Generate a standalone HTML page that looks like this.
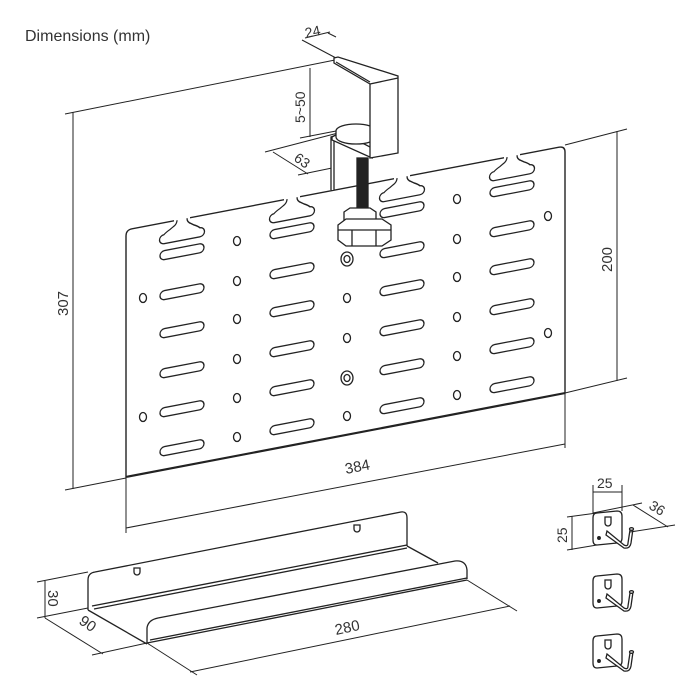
<!DOCTYPE html>
<html><head><meta charset="utf-8"><style>
html,body{margin:0;padding:0;background:#fff;}
svg{display:block;}
text{font-family:"Liberation Sans",sans-serif;fill:#333;}
</style></head><body>
<svg width="700" height="700" viewBox="0 0 700 700" xmlns="http://www.w3.org/2000/svg">
<text x="25" y="41" font-size="16">Dimensions (mm)</text>
<g stroke="#222" fill="none" stroke-width="1">
<line x1="65" y1="114" x2="335" y2="60"/>
<line x1="65" y1="490" x2="126" y2="478"/>
<line x1="73" y1="112" x2="73" y2="489"/>
<line x1="565" y1="145" x2="627" y2="129"/>
<line x1="565" y1="393" x2="627" y2="378"/>
<line x1="617" y1="131" x2="617" y2="381"/>
<line x1="126" y1="478" x2="126" y2="533"/>
<line x1="565" y1="393" x2="565" y2="448"/>
<line x1="126" y1="528" x2="565" y2="444"/>
<line x1="300" y1="138" x2="336" y2="131"/>
<line x1="310" y1="68" x2="310" y2="137"/>
<line x1="265" y1="152" x2="338" y2="133"/>
<line x1="273" y1="152" x2="308" y2="174"/>
<line x1="298" y1="175" x2="332" y2="168"/>
<line x1="302" y1="40" x2="336" y2="58"/>
<line x1="305" y1="38" x2="330" y2="32"/>
<line x1="328" y1="33" x2="336" y2="37"/>
</g>
<text font-size="15" transform="translate(68,316) rotate(-90)">307</text>
<text font-size="15" transform="translate(612,272) rotate(-90)">200</text>
<text font-size="15" transform="translate(346,474) rotate(-11)">384</text>
<text font-size="14" transform="translate(305,123) rotate(-90)">5~50</text>
<text font-size="14" transform="translate(293,160) rotate(35)">63</text>
<text font-size="14" transform="translate(306,38) rotate(-12)">24</text>

<g transform="matrix(1,-0.191,0,1,0,0)" stroke="#222" stroke-width="1.3" fill="#fff">
<path d="M126,501 V260 Q126,254 132,254 H559 Q565,254 565,260 V501 Z" stroke-width="1.4"/>
<line x1="126" y1="501" x2="565" y2="501" stroke-width="2.2"/>
<g fill="#fff">
<rect x="174" y="251" width="16" height="5" stroke="none"/>
<path d="M177,254 Q177,258 173,260 L170,262 Q166,264 164,266 a4.5,4.5 0 0 0 0,9 H200 a4.5,4.5 0 0 0 0,-9 Q198,264 194,262 L191,260 Q187,258 187,254"/>
<rect x="284" y="251" width="16" height="5" stroke="none"/>
<path d="M287,254 Q287,258 283,260 L280,262 Q276,264 274,266 a4.5,4.5 0 0 0 0,9 H310 a4.5,4.5 0 0 0 0,-9 Q308,264 304,262 L301,260 Q297,258 297,254"/>
<rect x="394" y="251" width="16" height="5" stroke="none"/>
<path d="M397,254 Q397,258 393,260 L390,262 Q386,264 384,266 a4.5,4.5 0 0 0 0,9 H420 a4.5,4.5 0 0 0 0,-9 Q418,264 414,262 L411,260 Q407,258 407,254"/>
<rect x="504" y="251" width="16" height="5" stroke="none"/>
<path d="M507,254 Q507,258 503,260 L500,262 Q496,264 494,266 a4.5,4.5 0 0 0 0,9 H530 a4.5,4.5 0 0 0 0,-9 Q528,264 524,262 L521,260 Q517,258 517,254"/>
</g>
<g>
<rect x="160" y="282" width="44" height="9" rx="4.5"/><rect x="160" y="322" width="44" height="9" rx="4.5"/><rect x="160" y="360" width="44" height="9" rx="4.5"/><rect x="160" y="400" width="44" height="9" rx="4.5"/><rect x="160" y="439" width="44" height="9" rx="4.5"/><rect x="160" y="478" width="44" height="9" rx="4.5"/>
<rect x="270" y="282" width="44" height="9" rx="4.5"/><rect x="270" y="322" width="44" height="9" rx="4.5"/><rect x="270" y="360" width="44" height="9" rx="4.5"/><rect x="270" y="400" width="44" height="9" rx="4.5"/><rect x="270" y="439" width="44" height="9" rx="4.5"/><rect x="270" y="478" width="44" height="9" rx="4.5"/>
<rect x="380" y="282" width="44" height="9" rx="4.5"/><rect x="380" y="322" width="44" height="9" rx="4.5"/><rect x="380" y="360" width="44" height="9" rx="4.5"/><rect x="380" y="400" width="44" height="9" rx="4.5"/><rect x="380" y="439" width="44" height="9" rx="4.5"/><rect x="380" y="478" width="44" height="9" rx="4.5"/>
<rect x="490" y="282" width="44" height="9" rx="4.5"/><rect x="490" y="322" width="44" height="9" rx="4.5"/><rect x="490" y="360" width="44" height="9" rx="4.5"/><rect x="490" y="400" width="44" height="9" rx="4.5"/><rect x="490" y="439" width="44" height="9" rx="4.5"/><rect x="490" y="478" width="44" height="9" rx="4.5"/>
</g>
</g>
<g stroke="#222" fill="#fff" stroke-width="1.3">
<ellipse cx="237" cy="241" rx="3.5" ry="4.5"/><ellipse cx="237" cy="281" rx="3.5" ry="4.5"/><ellipse cx="237" cy="319" rx="3.5" ry="4.5"/><ellipse cx="237" cy="359" rx="3.5" ry="4.5"/><ellipse cx="237" cy="398" rx="3.5" ry="4.5"/><ellipse cx="237" cy="437" rx="3.5" ry="4.5"/>
<ellipse cx="457" cy="199" rx="3.5" ry="4.5"/><ellipse cx="457" cy="239" rx="3.5" ry="4.5"/><ellipse cx="457" cy="277" rx="3.5" ry="4.5"/><ellipse cx="457" cy="317" rx="3.5" ry="4.5"/><ellipse cx="457" cy="356" rx="3.5" ry="4.5"/><ellipse cx="457" cy="395" rx="3.5" ry="4.5"/>
<ellipse cx="347" cy="298" rx="3.5" ry="4.5"/><ellipse cx="347" cy="338" rx="3.5" ry="4.5"/><ellipse cx="347" cy="416" rx="3.5" ry="4.5"/>
<ellipse cx="143" cy="298" rx="3.5" ry="4.5"/><ellipse cx="143" cy="417" rx="3.5" ry="4.5"/>
<ellipse cx="548" cy="216" rx="3.5" ry="4.5"/><ellipse cx="548" cy="333" rx="3.5" ry="4.5"/>
<ellipse cx="347" cy="259" rx="6" ry="7"/><ellipse cx="347" cy="259" rx="3" ry="3.5"/>
<ellipse cx="347" cy="378" rx="6" ry="7"/><ellipse cx="347" cy="378" rx="3" ry="3.5"/>
</g>
<g stroke="#222" stroke-width="1.3" fill="#fff">
<path d="M331,190 V137 L334,136 V190"/>
<path d="M332,137 L341,132 L372,148 L372,158 L332,140 Z"/>
<ellipse cx="356" cy="131" rx="20" ry="7"/>
<path d="M336,131 v6 a20,7 0 0 0 40,0 v-6"/>
<path d="M334,58 L338,57 L398,76 L398,153 L370,158 L370,84 L334,63 Z"/>
<path d="M370,84 L398,78" fill="none"/>
<path d="M336,62 L370,82" fill="none"/>
<rect x="357" y="158" width="11" height="54" fill="#222"/>
<path d="M344,212 L350,208 L370,208 L376,212 L376,224 L344,224 Z"/>
<path d="M338,225 L346,219 L382,219 L391,225 L391,240 L382,246 L346,246 L338,240 Z"/>
<path d="M338,230 H391 M352,230 V246 M376,230 V246" fill="none"/>
</g>

<g stroke="#222" stroke-width="1.3" fill="none">
<path d="M88,610 V580 Q88,573 95,572 L401,512 Q407,511 407,518 V546"/>
<path d="M92,606 L407,545 M94,609 L407,548"/>
<path d="M88,610 L147,644"/>
<path d="M407,546 L438,563"/>
<path d="M147,643 V628 Q148,620 158,618 L455,561 Q466,560 467,570 V579"/>
<path d="M147,643 L467,580 M150,640 L467,578"/>
<path d="M134,568 h6 v4 a3,3 0 0 1 -6,0 Z"/>
<path d="M354,525 h6 v4 a3,3 0 0 1 -6,0 Z"/>
<line x1="37" y1="582" x2="88" y2="572" stroke-width="1"/>
<line x1="37" y1="618" x2="88" y2="608" stroke-width="1"/>
<line x1="45" y1="581" x2="45" y2="618" stroke-width="1"/>
<line x1="45" y1="618" x2="103" y2="654" stroke-width="1"/>
<line x1="92" y1="655" x2="147" y2="643" stroke-width="1"/>
<line x1="147" y1="643" x2="197" y2="675" stroke-width="1"/>
<line x1="467" y1="580" x2="517" y2="611" stroke-width="1"/>
<line x1="190" y1="672" x2="510" y2="606" stroke-width="1"/>
</g>
<text font-size="15" transform="translate(48,590) rotate(90)">30</text>
<text font-size="15" transform="translate(78,623) rotate(35)">90</text>
<text font-size="15" transform="translate(336,635) rotate(-12)">280</text>

<g stroke="#222" stroke-width="1.3" fill="#fff">
<g id="hk">
<path d="M597,513 L617,511 Q622,511 622,516 V538 Q622,543 617,543 L597,545 Q593,545 593,540 V518 Q593,513 597,513 Z"/>
<path d="M605,517 h6 v6 a3,3 0 0 1 -6,0 Z"/>
<circle cx="599" cy="538" r="1.3" fill="#222"/>
<path d="M607,531 L624,545 Q628,547 628,543 L630,530 L633,529 L631,543 Q630,549 624,548 L606,535 Z"/>
<ellipse cx="631.5" cy="529" rx="2" ry="1.3"/>
</g>
<use href="#hk" transform="translate(0,63)"/>
<use href="#hk" transform="translate(0,123)"/>
</g>
<g stroke="#222" stroke-width="1" fill="none">
<line x1="593" y1="485" x2="593" y2="513"/>
<line x1="622" y1="485" x2="622" y2="511"/>
<line x1="593" y1="492" x2="622" y2="492"/>
<line x1="567" y1="517" x2="597" y2="513"/>
<line x1="567" y1="550" x2="597" y2="545"/>
<line x1="572" y1="516" x2="572" y2="550"/>
<line x1="593" y1="513" x2="642" y2="503"/>
<line x1="630" y1="532" x2="675" y2="525"/>
<line x1="633" y1="505" x2="668" y2="527"/>
</g>
<text font-size="14" x="597" y="488">25</text>
<text font-size="14" transform="translate(567,543) rotate(-90)">25</text>
<text font-size="14" transform="translate(648,508) rotate(32)">36</text>
</svg>
</body></html>
